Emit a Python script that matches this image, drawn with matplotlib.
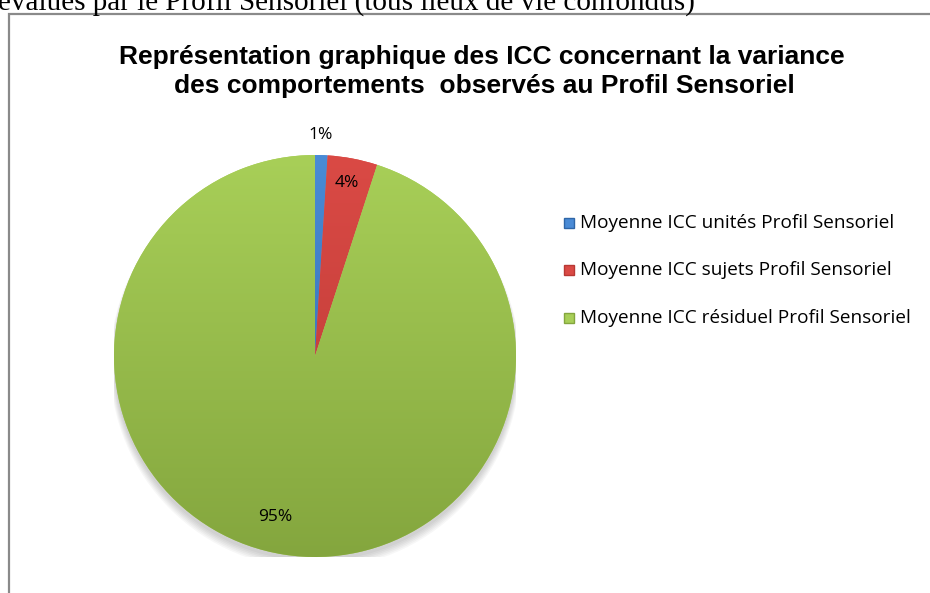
import numpy as np
import matplotlib
matplotlib.use('Agg')
import matplotlib.pyplot as plt
from matplotlib.patches import Rectangle, Circle
from matplotlib.colors import to_rgb

labels = ['Moyenne ICC unités Profil Sensoriel',
          'Moyenne ICC sujets Profil Sensoriel',
          'Moyenne ICC résiduel Profil Sensoriel']
values = [1, 4, 95]
pct_labels = ['1%', '4%', '95%']
top_colors = ['#4A8BD6', '#DA4A45', '#A8CF58']
bottom_colors = ['#2F66A8', '#B83834', '#84A63E']

W, H = 930, 593
fig = plt.figure(figsize=(W / 100, H / 100), dpi=100)
fig.patch.set_facecolor('white')

# bout de texte du document au-dessus du graphique
fig.text(-0.002, 1 - 10 / H, 'évalués par le Profil Sensoriel (tous lieux de vie confondus)',
         family='Liberation Serif', fontsize=21, ha='left', va='baseline')

# cadre du graphique
frame = Rectangle((9 / W, -0.1), 1.2, 1 - 14 / H + 0.1, transform=fig.transFigure,
                  fill=False, edgecolor='#8A8A8A', lw=1.6)
fig.patches.append(frame)

fig.text(482 / W, 1 - 64 / H, 'Représentation graphique des ICC concernant la variance',
         family='Liberation Sans', weight='bold', fontsize=19, ha='center', va='baseline')
fig.text(484 / W, 1 - 93 / H, 'des comportements  observés au Profil Sensoriel',
         family='Liberation Sans', weight='bold', fontsize=19, ha='center', va='baseline')

cx, cy, r = 315, 356, 201
ax = fig.add_axes([(cx - r) / W, (H - cy - r) / H, 2 * r / W, 2 * r / H])
ax.set_xlim(-1, 1)
ax.set_ylim(-1, 1)
ax.set_aspect('equal')
ax.axis('off')

# ombre douce sous le camembert
for k in range(6):
    ax.add_patch(Circle((0.0, -0.02 - 0.004 * k), 1.0 + 0.004 * k,
                        color='black', alpha=0.03, zorder=0, lw=0))

wedges, _ = ax.pie(values, startangle=90, counterclock=False, radius=1,
                   colors=top_colors, wedgeprops=dict(lw=0))

# dégradé vertical dans chaque part
t = np.linspace(0, 1, 256)[:, None]
for w, c1, c2 in zip(wedges, top_colors, bottom_colors):
    a, b = np.array(to_rgb(c1)), np.array(to_rgb(c2))
    grad = a[None, None, :] * (1 - t[..., None]) + b[None, None, :] * t[..., None]
    grad = np.repeat(grad, 2, axis=1)
    im = ax.imshow(grad, extent=(-1, 1, -1, 1), origin='upper', zorder=2,
                   interpolation='bilinear')
    im.set_clip_path(w)
    w.set_zorder(1)

ax.set_xlim(-1, 1)
ax.set_ylim(-1, 1)

font_lbl = 'Open Sans'
ax.text(0.03, 1.1, pct_labels[0], ha='center', va='center', fontsize=12.5, family=font_lbl)
ax.text(0.16, 0.86, pct_labels[1], ha='center', va='center', fontsize=12.5, family=font_lbl, zorder=5)
ax.text(-0.2, -0.8, pct_labels[2], ha='center', va='center', fontsize=12.5, family=font_lbl, zorder=5)

# légende
leg_y = [223, 270, 318]
for lab, c1, c2, y in zip(labels, top_colors, bottom_colors, leg_y):
    fig.patches.append(Rectangle((564 / W, 1 - (y + 5) / H), 10 / W, 10 / H,
                                 transform=fig.transFigure, facecolor=c1,
                                 edgecolor=c2, lw=1))
    fig.text(580 / W, 1 - y / H, lab, family=font_lbl, fontsize=13.7,
             ha='left', va='center')

fig.savefig('out.png', dpi=100)
